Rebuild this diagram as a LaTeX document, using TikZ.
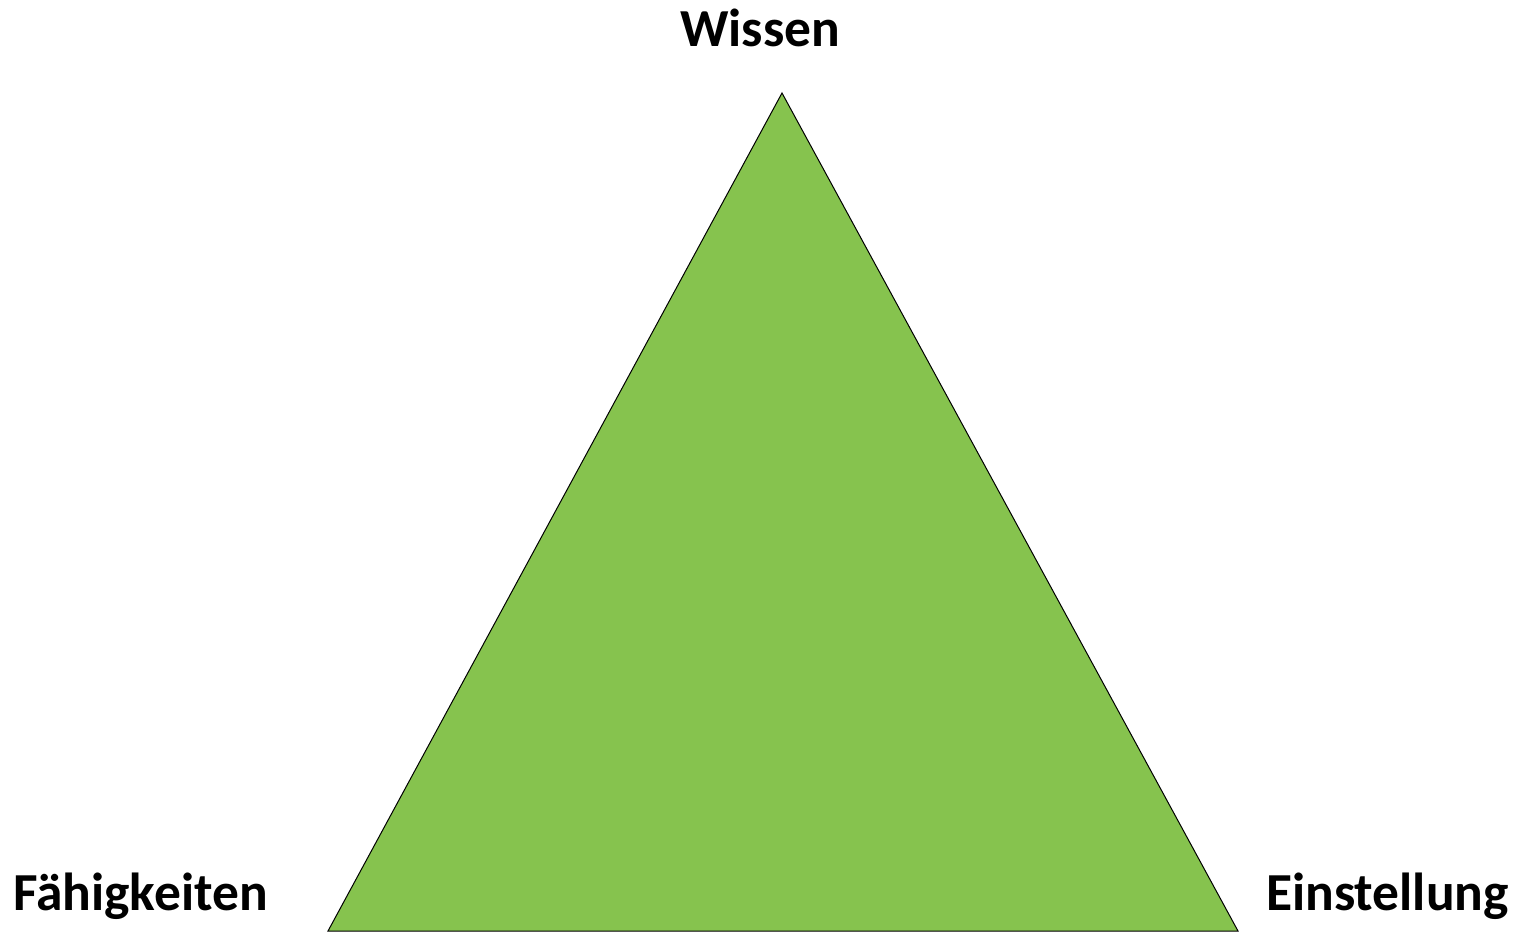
\documentclass[tikz,border=0pt]{standalone}
\usepackage{fontspec}
\setmainfont{Carlito}
\definecolor{trigreen}{RGB}{134,195,78}
\begin{document}
\begin{tikzpicture}[x=1pt,y=-1pt,
  lbl/.style={font=\fontsize{53.5}{62}\selectfont\bfseries, inner sep=0pt}]
\useasboundingbox (0,0) rectangle (1520,932);
\coordinate (top) at (782,93);
\coordinate (bl) at (328,931);
\coordinate (br) at (1238,931);
\filldraw[fill=trigreen, draw=black, line width=1pt] (top) -- (bl) -- (br) -- cycle;
\node[lbl, anchor=base] (wissen) at (760,46) {Wissen};
\node[lbl, anchor=base west] (faeh) at (13,910) {Fähigkeiten};
\node[lbl, anchor=base east] (einst) at (1509,910) {Einstellung};
\end{tikzpicture}
\end{document}
